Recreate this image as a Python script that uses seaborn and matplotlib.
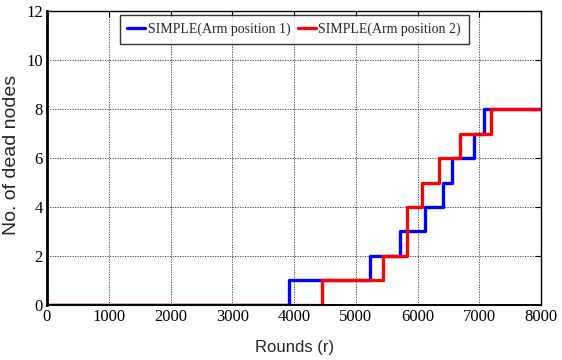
import matplotlib
matplotlib.use("Agg")
import matplotlib.pyplot as plt
import seaborn as sns
import pandas as pd

# Rounds at which the dead-node count increases, and the count reached there
arm1_rounds = [0, 3910, 5225, 5712, 6122, 6415, 6558, 6920, 7082, 8000]
arm1_dead = [0, 1, 2, 3, 4, 5, 6, 7, 8, 8]
arm2_rounds = [0, 4458, 5442, 5822, 6070, 6352, 6692, 7190, 8000]
arm2_dead = [0, 1, 2, 4, 5, 6, 7, 8, 8]

series_names = ["SIMPLE(Arm position 1)", "SIMPLE(Arm position 2)"]
series_colors = ["#0000ff", "#ff0000"]

x_ticks = [0, 1000, 2000, 3000, 4000, 5000, 6000, 7000, 8000]
y_ticks = [0, 2, 4, 6, 8, 10, 12]

df = pd.concat([
    pd.DataFrame({"Rounds": arm1_rounds, "Dead": arm1_dead, "Series": series_names[0]}),
    pd.DataFrame({"Rounds": arm2_rounds, "Dead": arm2_dead, "Series": series_names[1]}),
], ignore_index=True)

sns.set_style("white")
fig = plt.figure(figsize=(5.62, 3.6), dpi=100)
ax = fig.add_axes([0.0836, 0.153, 0.8794, 0.816])

sns.lineplot(data=df, x="Rounds", y="Dead", hue="Series", palette=series_colors,
             hue_order=series_names, drawstyle="steps-post", linewidth=2.4,
             estimator=None, sort=False, ax=ax)

ax.set_xlim(0, 8000)
ax.set_ylim(0, 12)
ax.set_xticks(x_ticks)
ax.set_yticks(y_ticks)
ax.set_xticklabels([str(t) for t in x_ticks], family="Liberation Serif", fontsize=12)
ax.set_yticklabels([str(t) for t in y_ticks], family="Liberation Serif", fontsize=12)
ax.tick_params(direction="in", top=True, right=True, length=4, width=0.8,
               colors="black", pad=3)
ax.grid(True, linestyle=(0, (1.5, 1.5)), color="black", linewidth=0.6, alpha=0.8)

ax.set_xlabel("Rounds (r)", family="Liberation Sans", fontsize=12, labelpad=11)
ax.set_ylabel("No. of dead nodes", family="Liberation Sans", fontsize=14)
ax.yaxis.set_label_coords(-0.055, 0.51)

for side, sp in ax.spines.items():
    sp.set_visible(True)
    sp.set_color("black")
    sp.set_linewidth(1.0)
ax.spines["left"].set_linewidth(2.0)
ax.spines["bottom"].set_linewidth(1.4)

leg = ax.legend(loc="upper center", bbox_to_anchor=(0.5, 1.0), borderaxespad=0.3,
                frameon=True, fancybox=False, handlelength=1.3, handletextpad=0.2,
                columnspacing=0.5, ncol=2, borderpad=0.55,
                prop={"family": "Liberation Serif", "size": 10})
leg.get_frame().set_edgecolor("black")
leg.get_frame().set_linewidth(1.0)
for line in leg.get_lines():
    line.set_linewidth(2.4)

fig.savefig("out.png", dpi=100)
